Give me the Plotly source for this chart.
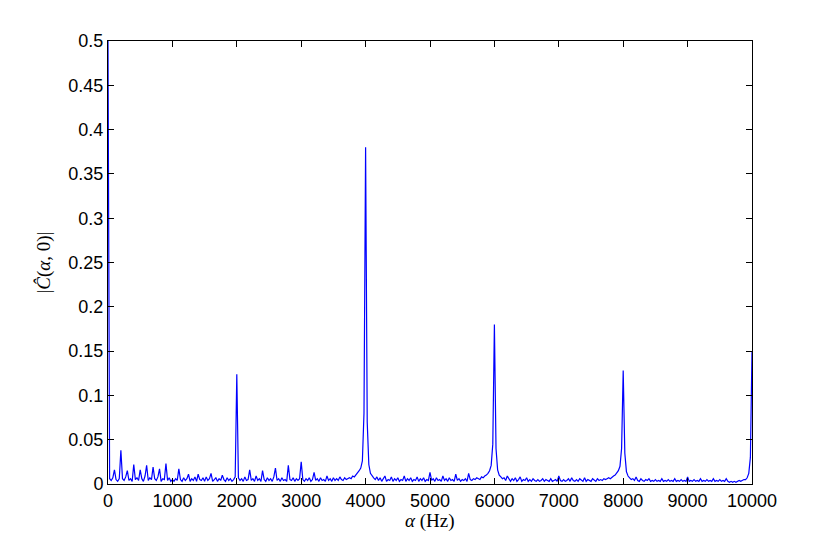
import numpy as np
import plotly.graph_objects as go

# cyclic frequency grid (Hz), 25 Hz bins
alpha = np.arange(0, 10001, 25)

# |C(alpha,0)|, one list per 1 kHz block
mag_0k = [0.5, 0.006, 0.004, 0.007, 0.016, 0.005, 0.003, 0.006, 0.038, 0.006,
          0.004, 0.008, 0.015, 0.004, 0.006, 0.003, 0.022, 0.005, 0.007, 0.004,
          0.016, 0.006, 0.003, 0.009, 0.021, 0.004, 0.007, 0.005, 0.019, 0.006,
          0.004, 0.008, 0.017, 0.003, 0.006, 0.005, 0.023, 0.004, 0.007, 0.003]
mag_1k = [0.005, 0.003, 0.006, 0.004, 0.017, 0.005, 0.003, 0.007, 0.004, 0.006,
          0.011, 0.003, 0.006, 0.004, 0.008, 0.003, 0.011, 0.005, 0.004, 0.007,
          0.003, 0.008, 0.004, 0.006, 0.012, 0.003, 0.005, 0.007, 0.003, 0.006,
          0.004, 0.010, 0.005, 0.003, 0.007, 0.004, 0.006, 0.003, 0.005, 0.008]
mag_2k = [0.124, 0.007, 0.004, 0.006, 0.003, 0.008, 0.004, 0.005, 0.016, 0.004,
          0.006, 0.003, 0.009, 0.004, 0.006, 0.003, 0.015, 0.005, 0.003, 0.007,
          0.004, 0.006, 0.003, 0.008, 0.018, 0.004, 0.006, 0.003, 0.007, 0.004,
          0.005, 0.003, 0.021, 0.005, 0.004, 0.007, 0.003, 0.006, 0.004, 0.006]
mag_3k = [0.025, 0.005, 0.003, 0.006, 0.004, 0.007, 0.003, 0.005, 0.013, 0.004,
          0.006, 0.003, 0.007, 0.004, 0.005, 0.003, 0.009, 0.004, 0.006, 0.003,
          0.007, 0.004, 0.006, 0.004, 0.008, 0.005, 0.004, 0.007, 0.005, 0.006,
          0.007, 0.006, 0.009, 0.008, 0.010, 0.012, 0.015, 0.018, 0.026, 0.080]
mag_4k = [0.380, 0.070, 0.022, 0.012, 0.009, 0.007, 0.005, 0.008, 0.004, 0.007,
          0.003, 0.006, 0.009, 0.003, 0.005, 0.004, 0.008, 0.003, 0.006, 0.004,
          0.007, 0.003, 0.005, 0.004, 0.009, 0.003, 0.006, 0.004, 0.007, 0.003,
          0.005, 0.004, 0.008, 0.003, 0.006, 0.004, 0.007, 0.003, 0.005, 0.004]
mag_5k = [0.013, 0.004, 0.006, 0.003, 0.007, 0.004, 0.005, 0.003, 0.009, 0.004,
          0.006, 0.003, 0.007, 0.004, 0.005, 0.003, 0.011, 0.004, 0.006, 0.003,
          0.005, 0.004, 0.006, 0.003, 0.012, 0.005, 0.004, 0.006, 0.005, 0.007,
          0.006, 0.005, 0.008, 0.007, 0.009, 0.010, 0.012, 0.015, 0.021, 0.045]
mag_6k = [0.180, 0.040, 0.016, 0.010, 0.008, 0.006, 0.007, 0.004, 0.009, 0.005,
          0.003, 0.006, 0.004, 0.007, 0.003, 0.005, 0.008, 0.003, 0.005, 0.004,
          0.007, 0.003, 0.005, 0.003, 0.006, 0.004, 0.003, 0.005, 0.003, 0.004,
          0.006, 0.003, 0.005, 0.004, 0.003, 0.006, 0.003, 0.004, 0.005, 0.003]
mag_7k = [0.009, 0.004, 0.003, 0.005, 0.003, 0.004, 0.006, 0.003, 0.007, 0.004,
          0.003, 0.005, 0.003, 0.006, 0.004, 0.003, 0.007, 0.003, 0.005, 0.004,
          0.003, 0.006, 0.004, 0.003, 0.006, 0.004, 0.005, 0.004, 0.006, 0.005,
          0.006, 0.007, 0.006, 0.008, 0.009, 0.010, 0.012, 0.015, 0.020, 0.040]
mag_8k = [0.128, 0.035, 0.014, 0.009, 0.007, 0.005, 0.006, 0.004, 0.008, 0.004,
          0.003, 0.006, 0.004, 0.003, 0.005, 0.004, 0.006, 0.003, 0.004, 0.003,
          0.005, 0.003, 0.004, 0.003, 0.006, 0.003, 0.004, 0.003, 0.005, 0.003,
          0.004, 0.003, 0.006, 0.003, 0.004, 0.003, 0.005, 0.003, 0.004, 0.003]
mag_9k = [0.008, 0.003, 0.004, 0.003, 0.005, 0.003, 0.004, 0.003, 0.006, 0.003,
          0.004, 0.003, 0.005, 0.003, 0.004, 0.003, 0.006, 0.003, 0.004, 0.003,
          0.005, 0.003, 0.004, 0.003, 0.006, 0.003, 0.002, 0.003, 0.002, 0.003,
          0.002, 0.003, 0.004, 0.003, 0.004, 0.005, 0.005, 0.007, 0.012, 0.030,
          0.150]

mag = (mag_0k + mag_1k + mag_2k + mag_3k + mag_4k +
       mag_5k + mag_6k + mag_7k + mag_8k + mag_9k)

fig = go.Figure()
fig.add_trace(go.Scatter(
    x=alpha, y=mag, mode="lines",
    line=dict(color="#0000ff", width=1.2),
    showlegend=False,
))

axis_style = dict(
    showline=True, linecolor="black", linewidth=1, mirror="ticks",
    ticks="inside", ticklen=6, tickcolor="black", showgrid=False,
    zeroline=False, tickfont=dict(family="Liberation Sans, Arial", size=18, color="black"),
)

fig.update_xaxes(
    range=[0, 10000], tickvals=list(range(0, 10001, 1000)), tickformat="d",
    **axis_style,
)
fig.update_yaxes(
    range=[0, 0.5], dtick=0.05,
    title=dict(text="|<i>Ĉ</i>(<i>α</i>, 0)|", standoff=12,
               font=dict(family="Liberation Serif, DejaVu Serif", size=19, color="black")),
    **axis_style,
)

# x label placed by hand, just under the tick labels
fig.add_annotation(
    text="<i>α</i> (Hz)", xref="paper", yref="paper", x=0.5, y=-0.084,
    xanchor="center", yanchor="middle", showarrow=False,
    font=dict(family="Liberation Serif, DejaVu Serif", size=19, color="black"),
)

# page has an 8 px body margin, so the figure sits 8 px right/down
fig.update_layout(
    width=830, height=545,
    margin=dict(l=100, r=86, t=33, b=69),
    paper_bgcolor="white", plot_bgcolor="white",
)

fig.write_html("out.html")
